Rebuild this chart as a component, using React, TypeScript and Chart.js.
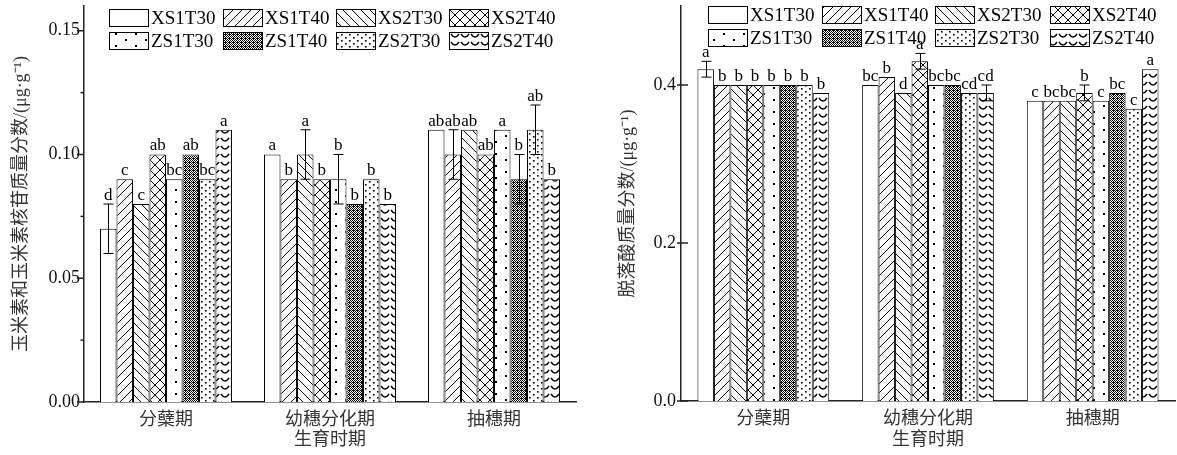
import React, { useEffect, useRef } from 'react';
import { Chart, registerables } from 'chart.js';

Chart.register(...registerables);

// ---------- data ----------
const categories = ['分蘖期', '幼穗分化期', '抽穗期'];
const seriesNames = ['XS1T30', 'XS1T40', 'XS2T30', 'XS2T40', 'ZS1T30', 'ZS1T40', 'ZS2T30', 'ZS2T40'];
const xTitle = '生育时期';

// Left: zeatin + zeatin riboside
const zrTitle = '玉米素和玉米素核苷质量分数/(μg·g⁻¹)';
const zrValues = [
  [0.07, 0.10, 0.11],
  [0.09, 0.09, 0.10],
  [0.08, 0.10, 0.11],
  [0.10, 0.09, 0.10],
  [0.09, 0.09, 0.11],
  [0.10, 0.08, 0.09],
  [0.09, 0.09, 0.11],
  [0.11, 0.08, 0.09],
];
const zrErrors = [
  [0.01, 0, 0],
  [0, 0, 0.01],
  [0, 0.01, 0],
  [0, 0, 0],
  [0, 0.01, 0],
  [0, 0, 0.01],
  [0, 0, 0.01],
  [0, 0, 0],
];
const zrLetters = [
  ['d', 'a', 'ab'],
  ['c', 'b', 'ab'],
  ['c', 'a', 'ab'],
  ['ab', 'b', 'ab'],
  ['bc', 'b', 'a'],
  ['ab', 'b', 'b'],
  ['bc', 'b', 'ab'],
  ['a', 'b', 'b'],
];
const zrMajorTicks = [0, 0.05, 0.1, 0.15];
const zrTickLabels = ['0.00', '0.05', '0.10', '0.15'];
const zrMinorTicks = [0.025, 0.075, 0.125];

// Right: abscisic acid
const abaTitle = '脱落酸质量分数/(μg·g⁻¹)';
const abaValues = [
  [0.42, 0.40, 0.38],
  [0.40, 0.41, 0.38],
  [0.40, 0.39, 0.38],
  [0.40, 0.43, 0.39],
  [0.40, 0.40, 0.38],
  [0.40, 0.40, 0.39],
  [0.40, 0.39, 0.37],
  [0.39, 0.39, 0.42],
];
const abaErrors = [
  [0.01, 0, 0],
  [0, 0, 0],
  [0, 0, 0],
  [0, 0.01, 0.01],
  [0, 0, 0],
  [0, 0, 0],
  [0, 0, 0],
  [0, 0.01, 0],
];
const abaLetters = [
  ['a', 'bc', 'c'],
  ['b', 'b', 'bc'],
  ['b', 'd', 'bc'],
  ['b', 'a', 'b'],
  ['b', 'bc', 'c'],
  ['b', 'bc', 'bc'],
  ['b', 'cd', 'c'],
  ['b', 'cd', 'a'],
];
const abaMajorTicks = [0, 0.2, 0.4];
const abaTickLabels = ['0.0', '0.2', '0.4'];
const abaMinorTicks: number[] = [];

// ---------- patterns ----------
type Draw = (g: CanvasRenderingContext2D, w: number, h: number) => void;
function tile(w: number, h: number, draw: Draw) {
  const c = document.createElement('canvas');
  c.width = w;
  c.height = h;
  const g = c.getContext('2d')!;
  g.fillStyle = '#fff';
  g.fillRect(0, 0, w, h);
  g.fillStyle = '#000';
  g.strokeStyle = '#000';
  g.lineWidth = 1;
  draw(g, w, h);
  return c;
}

function makeFills(ctx: CanvasRenderingContext2D): (string | CanvasPattern)[] {
  const fwd = tile(9, 9, (g) => {
    g.beginPath();
    g.moveTo(-1, 10); g.lineTo(10, -1);
    g.moveTo(-1, 1); g.lineTo(1, -1);
    g.moveTo(8, 10); g.lineTo(10, 8);
    g.stroke();
  });
  const back = tile(9, 9, (g) => {
    g.beginPath();
    g.moveTo(-1, -1); g.lineTo(10, 10);
    g.moveTo(8, -1); g.lineTo(10, 1);
    g.moveTo(-1, 8); g.lineTo(1, 10);
    g.stroke();
  });
  const cross = tile(10, 10, (g) => {
    g.beginPath();
    g.moveTo(-1, -1); g.lineTo(11, 11);
    g.moveTo(-1, 11); g.lineTo(11, -1);
    g.stroke();
  });
  const sparse = tile(20, 12, (g) => {
    g.fillRect(5, 3, 2, 2);
    g.fillRect(15, 9, 2, 2);
  });
  const dense = tile(4, 4, (g) => {
    for (let yy = 0; yy < 4; yy++) {
      for (let xx = 0; xx < 4; xx++) {
        const black = (xx + yy) % 2 === 0 || (xx === 1 && yy === 2);
        if (black) g.fillRect(xx, yy, 1, 1);
      }
    }
  });
  const dots = tile(8, 6, (g) => {
    g.fillRect(1, 1, 1.6, 1.6);
    g.fillRect(5, 4, 1.6, 1.6);
  });
  const wave = tile(10, 8, (g) => {
    g.lineWidth = 1.4;
    g.beginPath();
    g.moveTo(1, 2);
    g.quadraticCurveTo(5, 8, 9, 2);
    g.stroke();
  });
  const p = (c: HTMLCanvasElement) => ctx.createPattern(c, 'repeat') as CanvasPattern;
  return ['#ffffff', p(fwd), p(back), p(cross), p(sparse), p(dense), p(dots), p(wave)];
}

// ---------- panel ----------
const serif = "'Liberation Serif', 'Noto Sans CJK SC', serif";
const cjk = "'Noto Sans CJK SC', 'Liberation Serif', sans-serif";

interface PanelProps {
  left: number;
  width: number;
  values: number[][];
  errors: number[][];
  letters: string[][];
  majorTicks: number[];
  tickLabels: string[];
  minorTicks: number[];
  yMax: number;
  yTitle: string;
  yAxisWidth: number;
  yTitlePad: number;
  tickPadding: number;
  tickOut: number;
  tickIn: number;
  padTop: number;
  padRight: number;
  xAxisHeight: number;
  catPct: number;
  legendX: number[];
  legendY: number[];
}

function Panel(props: PanelProps) {
  const ref = useRef<HTMLCanvasElement>(null);
  useEffect(() => {
    const canvas = ref.current!;
    const ctx = canvas.getContext('2d')!;
    const fills = makeFills(ctx);

    const deco = {
      id: 'deco',
      afterDatasetsDraw(chart: any) {
        const c: CanvasRenderingContext2D = chart.ctx;
        const y = chart.scales.y;
        const area = chart.chartArea;
        c.save();
        // y ticks
        c.strokeStyle = '#222';
        c.lineWidth = 1.5;
        const ax = area.left;
        props.majorTicks.forEach((v) => {
          const py = y.getPixelForValue(v);
          c.beginPath();
          c.moveTo(ax - props.tickOut, py);
          c.lineTo(ax + props.tickIn, py);
          c.stroke();
        });
        props.minorTicks.forEach((v) => {
          const py = y.getPixelForValue(v);
          c.beginPath();
          c.moveTo(ax - props.tickOut / 2, py);
          c.lineTo(ax, py);
          c.stroke();
        });
        // error bars + letters
        c.lineWidth = 1;
        c.strokeStyle = '#000';
        c.fillStyle = '#000';
        c.font = `17px ${serif}`;
        c.textAlign = 'center';
        c.textBaseline = 'bottom';
        chart.data.datasets.forEach((_ds: any, i: number) => {
          const meta = chart.getDatasetMeta(i);
          meta.data.forEach((bar: any, j: number) => {
            const v = props.values[i][j];
            const e = props.errors[i][j];
            let top = bar.y;
            if (e > 0) {
              const y1 = y.getPixelForValue(v + e);
              const y2 = y.getPixelForValue(v - e);
              const x = Math.round(bar.x) + 0.5;
              c.beginPath();
              c.moveTo(x, y1); c.lineTo(x, y2);
              c.moveTo(x - 5, y1); c.lineTo(x + 5, y1);
              c.moveTo(x - 5, y2); c.lineTo(x + 5, y2);
              c.stroke();
              top = Math.min(top, y1);
            }
            c.fillText(props.letters[i][j], bar.x, top);
          });
        });
        c.restore();
      },
      afterDraw(chart: any) {
        const c: CanvasRenderingContext2D = chart.ctx;
        c.save();
        c.font = `19px ${serif}`;
        c.textAlign = 'left';
        c.textBaseline = 'middle';
        chart.data.datasets.forEach((ds: any, i: number) => {
          const col = i % 4;
          const row = Math.floor(i / 4);
          const x = props.legendX[col];
          const yy = props.legendY[row];
          c.fillStyle = ds.backgroundColor;
          c.fillRect(x, yy, 39, 17);
          c.strokeStyle = '#000';
          c.lineWidth = 1;
          c.strokeRect(x + 0.5, yy + 0.5, 39, 17);
          c.fillStyle = '#000';
          c.fillText(ds.label, x + 42, yy + 10);
        });
        c.restore();
      },
    };

    const chart = new Chart(canvas, {
      type: 'bar',
      data: {
        labels: categories,
        datasets: seriesNames.map((name, i) => ({
          label: name,
          data: props.values[i],
          backgroundColor: fills[i] as any,
          borderColor: '#000',
          borderWidth: 1,
          categoryPercentage: props.catPct,
          barPercentage: 1,
        })),
      },
      options: {
        animation: false,
        responsive: false,
        devicePixelRatio: 1,
        layout: { padding: { left: 0, top: props.padTop, right: props.padRight, bottom: 0 } },
        plugins: { legend: { display: false }, tooltip: { enabled: false } },
        scales: {
          x: {
            grid: { display: false, drawTicks: false },
            border: { display: true, color: '#222', width: 1.5 },
            ticks: { font: { family: cjk, size: 18 }, color: '#333', padding: 5 },
            title: {
              display: true,
              text: xTitle,
              font: { family: cjk, size: 18 },
              color: '#333',
              padding: { top: 0, bottom: 6 },
            },
            afterFit: (s: any) => {
              s.height = props.xAxisHeight;
              s.paddingLeft = 0;
              s.paddingRight = 0;
            },
          },
          y: {
            min: 0,
            max: props.yMax,
            grid: { display: false, drawTicks: false },
            border: { display: true, color: '#222', width: 1.5 },
            afterBuildTicks: (s: any) => {
              s.ticks = props.majorTicks.map((v) => ({ value: v }));
            },
            ticks: {
              font: { family: serif, size: 18 },
              color: '#111',
              padding: props.tickPadding,
              callback: (_v: any, idx: number) => props.tickLabels[idx],
            },
            title: {
              display: true,
              text: props.yTitle,
              font: { family: serif, size: 18 },
              color: '#333',
              padding: { top: props.yTitlePad, bottom: 0 },
            },
            afterFit: (s: any) => {
              s.width = props.yAxisWidth;
              s.paddingTop = 0;
              s.paddingBottom = 0;
            },
          },
        },
      },
      plugins: [deco as any],
    });
    return () => chart.destroy();
  }, []);
  return (
    <canvas
      ref={ref}
      width={props.width}
      height={455}
      style={{ position: 'absolute', left: props.left, top: 0, width: props.width, height: 455, display: 'block' }}
    />
  );
}

export default function App() {
  return (
    <div style={{ position: 'absolute', left: 0, top: 0, width: 1177, height: 455, background: '#fff', overflow: 'hidden' }}>
      <Panel
        left={0}
        width={588}
        values={zrValues}
        errors={zrErrors}
        letters={zrLetters}
        majorTicks={zrMajorTicks}
        tickLabels={zrTickLabels}
        minorTicks={zrMinorTicks}
        yMax={0.16}
        yTitle={zrTitle}
        yAxisWidth={84}
        yTitlePad={10}
        tickPadding={4}
        tickOut={7}
        tickIn={0}
        padTop={6}
        padRight={12}
        xAxisHeight={53}
        catPct={0.805}
        legendX={[109, 223, 336, 449]}
        legendY={[9, 32]}
      />
      <Panel
        left={588}
        width={589}
        values={abaValues}
        errors={abaErrors}
        letters={abaLetters}
        majorTicks={abaMajorTicks}
        tickLabels={abaTickLabels}
        minorTicks={abaMinorTicks}
        yMax={0.5}
        yTitle={abaTitle}
        yAxisWidth={93}
        yTitlePad={29}
        tickPadding={5}
        tickOut={4}
        tickIn={7}
        padTop={6}
        padRight={2}
        xAxisHeight={54}
        catPct={0.8}
        legendX={[120, 234, 347, 462]}
        legendY={[6, 29]}
      />
    </div>
  );
}
